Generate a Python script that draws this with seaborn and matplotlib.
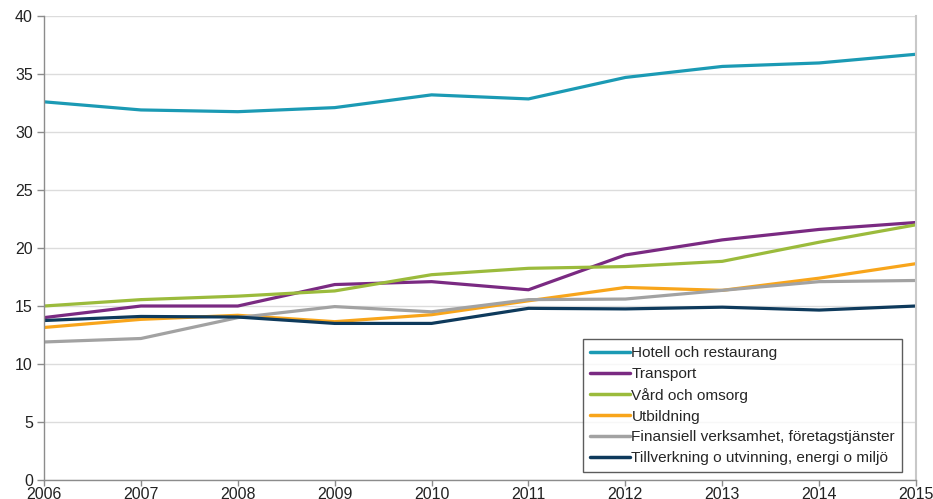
import matplotlib
matplotlib.use("Agg")
import matplotlib.pyplot as plt
import seaborn as sns
import pandas as pd

years = [2006, 2007, 2008, 2009, 2010, 2011, 2012, 2013, 2014, 2015]
hotell = [32.6, 31.9, 31.75, 32.1, 33.2, 32.85, 34.7, 35.65, 35.95, 36.7]
transport = [14.0, 15.0, 15.0, 16.85, 17.1, 16.4, 19.4, 20.7, 21.6, 22.2]
vard = [15.0, 15.55, 15.85, 16.3, 17.7, 18.25, 18.4, 18.85, 20.5, 22.0]
utbildning = [13.15, 13.85, 14.2, 13.65, 14.25, 15.45, 16.6, 16.35, 17.4, 18.65]
finansiell = [11.9, 12.2, 14.0, 14.95, 14.5, 15.55, 15.6, 16.35, 17.1, 17.2]
tillverkning = [13.75, 14.1, 14.05, 13.5, 13.5, 14.8, 14.75, 14.9, 14.65, 15.0]

names = ["Hotell och restaurang", "Transport", "Vård och omsorg", "Utbildning",
         "Finansiell verksamhet, företagstjänster", "Tillverkning o utvinning, energi o miljö"]
series = [hotell, transport, vard, utbildning, finansiell, tillverkning]
colors = ["#1B9AB4", "#7A2A82", "#9BBB3C", "#F8A51B", "#A2A2A2", "#0E3A5C"]

rows = []
for n, vals in zip(names, series):
    for y, v in zip(years, vals):
        rows.append({"year": y, "value": v, "series": n})
df = pd.DataFrame(rows)

sns.set_theme(style="white")
plt.rcParams["font.family"] = ["Liberation Sans", "DejaVu Sans"]

fig = plt.figure(figsize=(9.33, 4.99), dpi=100)
ax = fig.add_axes([0.0472, 0.038, 0.9346, 0.930])

sns.lineplot(data=df, x="year", y="value", hue="series", hue_order=names,
             palette=colors, linewidth=2.3, ax=ax)

ax.set_xlim(2006, 2015)
ax.set_ylim(0, 40)
ax.set_xticks(years)
ax.set_xticklabels([str(y) for y in years])
ax.set_yticks(range(0, 41, 5))
ax.yaxis.grid(True, color="#DCDCDC", linewidth=1.0)
ax.set_axisbelow(True)
ax.set_xlabel("")
ax.set_ylabel("")

for s in ["left", "bottom"]:
    ax.spines[s].set_color("#8C8C8C")
    ax.spines[s].set_linewidth(1.0)
ax.spines["top"].set_visible(False)
ax.spines["right"].set_visible(True)
ax.spines["right"].set_color("#C8C8C8")
ax.spines["right"].set_linewidth(1.5)

ax.tick_params(axis="both", which="both", direction="out", width=1,
               color="#8C8C8C", labelsize=11.5, labelcolor="#222222",
               bottom=True, left=True)
ax.tick_params(axis="x", length=4, pad=1)
ax.tick_params(axis="y", length=5, pad=3)

leg = ax.legend(loc="lower left", bbox_to_anchor=(0.618, 0.017), frameon=True,
                fancybox=False, edgecolor="#333333", fontsize=11.1, handlelength=2.6,
                handletextpad=0.1, labelspacing=0.44, borderpad=0.45, borderaxespad=0)
leg.get_frame().set_linewidth(1.0)
for line in leg.get_lines():
    line.set_linewidth(2.5)

fig.savefig("out.png", dpi=100)
